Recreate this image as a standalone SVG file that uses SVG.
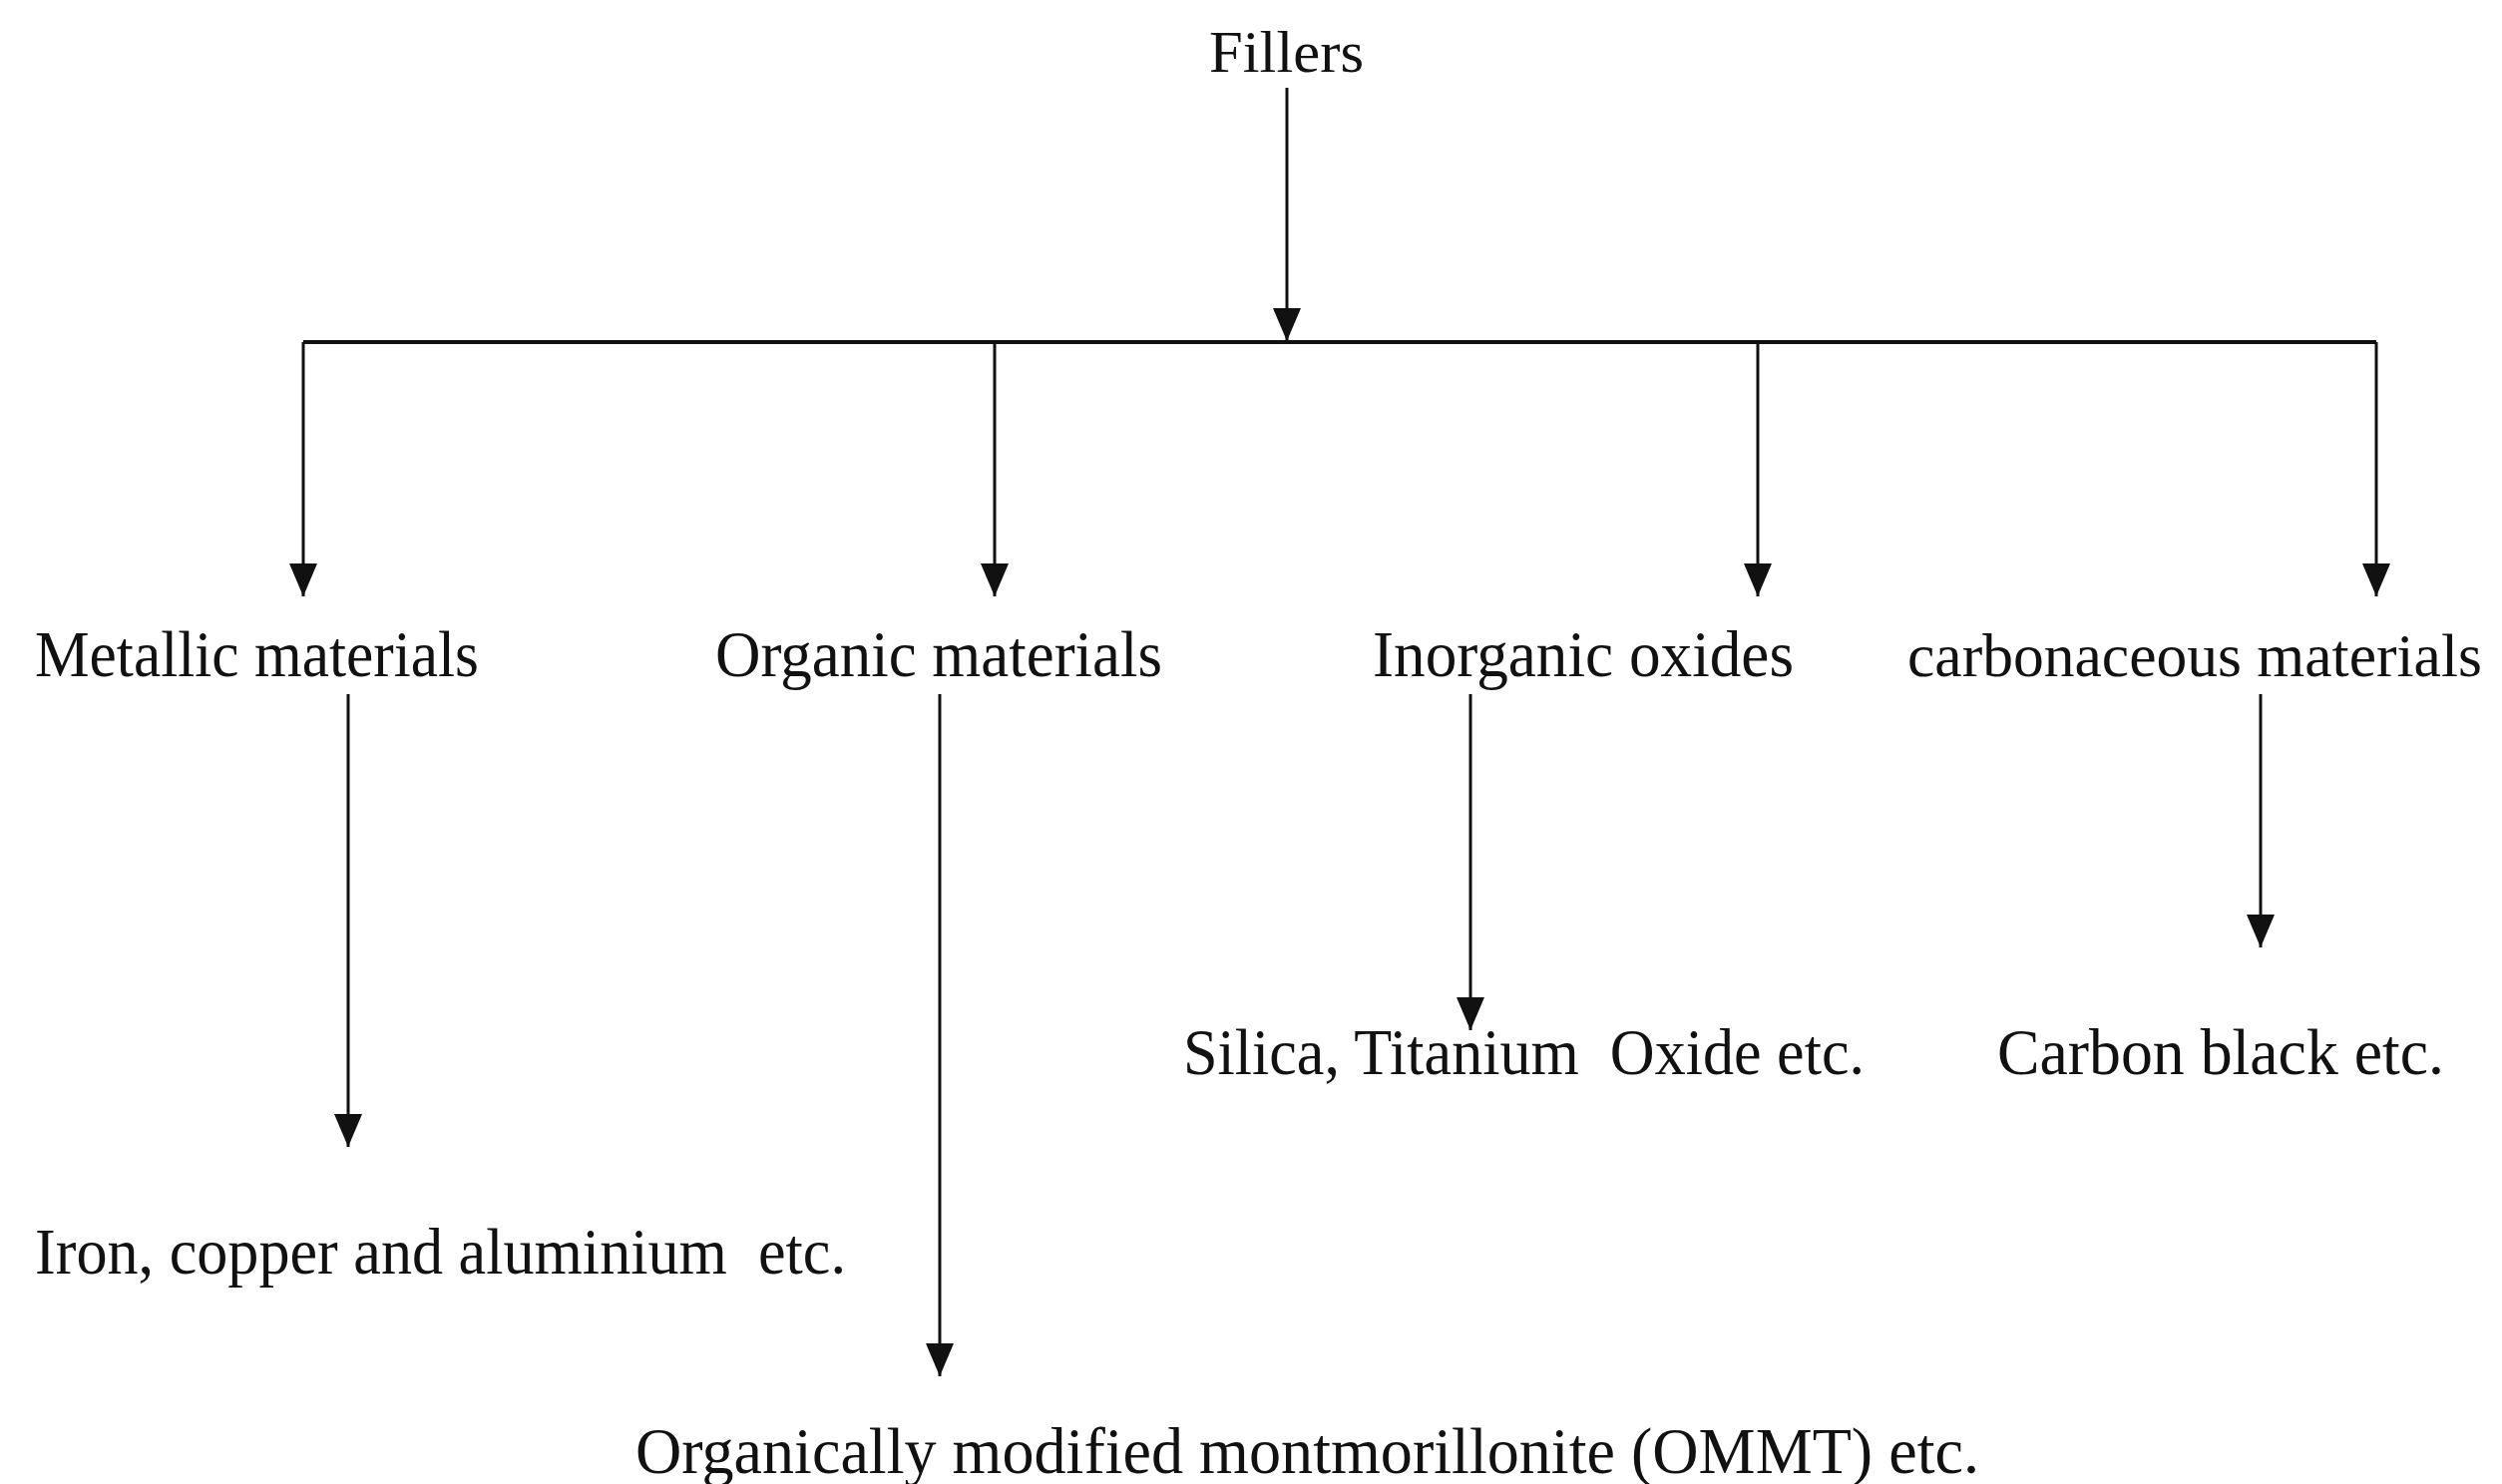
<svg xmlns="http://www.w3.org/2000/svg" width="2508" height="1488" viewBox="0 0 2508 1488">
<style>
.t{font-family:"Liberation Serif","Times New Roman",serif;font-size:65px;fill:#111;white-space:pre}
.ln{stroke:#111;stroke-width:3;fill:none}
</style>
<defs>
<marker id="ah" markerUnits="userSpaceOnUse" markerWidth="34" markerHeight="30" viewBox="0 0 34 30" refX="33" refY="15" orient="auto">
<path d="M0,1 L33,15 L0,29 z" fill="#111"/>
</marker>
</defs>
<rect width="2508" height="1488" fill="#fff"/>
<g id="connectors">
<line class="ln" x1="1290" y1="88" x2="1290" y2="342" marker-end="url(#ah)"/>
<line class="ln" x1="304" y1="343" x2="2382" y2="343" style="stroke-width:4"/>
<line class="ln" x1="304" y1="343" x2="304" y2="598" marker-end="url(#ah)"/>
<line class="ln" x1="997" y1="343" x2="997" y2="598" marker-end="url(#ah)"/>
<line class="ln" x1="1762" y1="343" x2="1762" y2="598" marker-end="url(#ah)"/>
<line class="ln" x1="2382" y1="343" x2="2382" y2="598" marker-end="url(#ah)"/>
<line class="ln" x1="349" y1="696" x2="349" y2="1150" marker-end="url(#ah)"/>
<line class="ln" x1="942" y1="696" x2="942" y2="1380" marker-end="url(#ah)"/>
<line class="ln" x1="1474" y1="696" x2="1474" y2="1033" marker-end="url(#ah)"/>
<line class="ln" x1="2266" y1="696" x2="2266" y2="950" marker-end="url(#ah)"/>
</g>
<g id="fillers"><text class="t" x="1212" y="72" style="font-size:60px" textLength="155" lengthAdjust="spacingAndGlyphs">Fillers</text></g>
<g id="metallic"><text class="t" x="35" y="678" textLength="445" lengthAdjust="spacingAndGlyphs">Metallic materials</text></g>
<g id="organic"><text class="t" x="717" y="678" textLength="448" lengthAdjust="spacingAndGlyphs">Organic materials</text></g>
<g id="inorganic"><text class="t" x="1376" y="678" textLength="422" lengthAdjust="spacingAndGlyphs">Inorganic oxides</text></g>
<g id="carbonaceous"><text class="t" x="1912" y="678" style="font-size:62px" textLength="576" lengthAdjust="spacingAndGlyphs">carbonaceous materials</text></g>
<g id="silica"><text class="t" x="1186" y="1077" textLength="683" lengthAdjust="spacingAndGlyphs">Silica, Titanium  Oxide etc.</text></g>
<g id="carbonblack"><text class="t" x="2002" y="1077" textLength="448" lengthAdjust="spacingAndGlyphs">Carbon black etc.</text></g>
<g id="iron"><text class="t" x="35" y="1277" textLength="813" lengthAdjust="spacingAndGlyphs">Iron, copper and aluminium  etc.</text></g>
<g id="ommt"><text class="t" x="637" y="1477" textLength="1347" lengthAdjust="spacingAndGlyphs">Organically modified montmorillonite (OMMT) etc.</text></g>
</svg>
